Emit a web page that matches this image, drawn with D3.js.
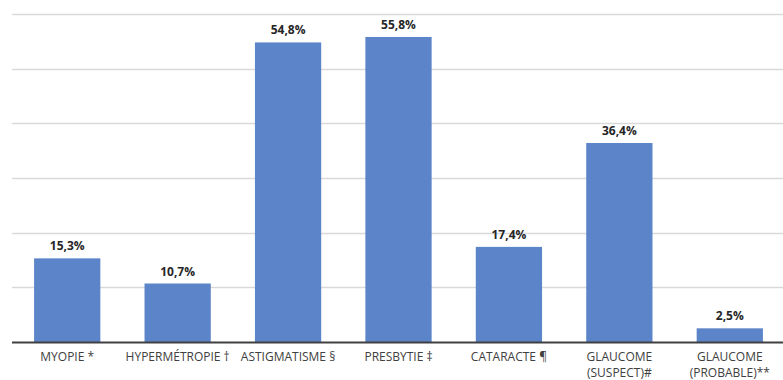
<!DOCTYPE html>
<html>
<head>
<meta charset="utf-8">
<script src="https://cdn.jsdelivr.net/npm/d3@7"></script>
<style>
  body { margin: 0; background: #fff; }
  text { font-family: "Open Sans", sans-serif; }
</style>
</head>
<body>
<div id="chart"></div>
<script>
const categories = ['MYOPIE *', 'HYPERMÉTROPIE †', 'ASTIGMATISME §', 'PRESBYTIE ‡', 'CATARACTE ¶', 'GLAUCOME|(SUSPECT)#', 'GLAUCOME|(PROBABLE)**'];
const values = [15.3, 10.7, 54.8, 55.8, 17.4, 36.4, 2.5];
const valueLabels = ['15,3%', '10,7%', '54,8%', '55,8%', '17,4%', '36,4%', '2,5%'];
const gridTicks = [10, 20, 30, 40, 50, 60];

const width = 783;
const height = 380;

const x = d3.scaleBand()
    .domain(categories)
    .range([12, 785])
    .paddingInner(0.4)
    .paddingOuter(0.2);

const y = d3.scaleLinear()
    .domain([0, 60])
    .range([342, 14]);

const svg = d3.select('#chart')
    .append('svg')
    .attr('width', width)
    .attr('height', height);

// gridlines
svg.selectAll('line.grid')
    .data(gridTicks)
    .enter()
        .append('line')
        .attr('class', 'grid')
        .attr('x1', 12)
        .attr('x2', width)
        .attr('y1', d => Math.round(y(d)) + 0.5)
        .attr('y2', d => Math.round(y(d)) + 0.5)
        .attr('stroke', '#d9d9d9')
        .attr('stroke-width', 1.5);

svg.selectAll('rect')
    .data(values)
    .enter()
        .append('rect')
        .attr('x', (d, i) => x(categories[i]))
        .attr('width', x.bandwidth())
        .attr('y', d => y(d))
        .attr('height', d => y(0) - y(d))
        .attr('fill', '#5b84c9');

svg.selectAll('text.value')
    .data(values)
    .enter()
        .append('text')
        .attr('class', 'value')
        .attr('x', (d, i) => x(categories[i]) + x.bandwidth() / 2)
        .attr('y', d => y(d) - 8)
        .attr('text-anchor', 'middle')
        .attr('font-size', 12)
        .attr('font-weight', 'bold')
        .attr('fill', '#262626')
        .text((d, i) => valueLabels[i]);

// baseline
svg.append('line')
    .attr('x1', 12)
    .attr('x2', width)
    .attr('y1', y(0) + 0.5)
    .attr('y2', y(0) + 0.5)
    .attr('stroke', '#404040')
    .attr('stroke-width', 2);

// category labels, one text per line
const lines = [];
categories.forEach(c => {
    c.split('|').forEach((p, j) => lines.push({ cat: c, text: p, row: j }));
});

svg.selectAll('text.cat')
    .data(lines)
    .enter()
        .append('text')
        .attr('class', 'cat')
        .attr('x', d => x(d.cat) + x.bandwidth() / 2)
        .attr('y', d => 361 + d.row * 16)
        .attr('text-anchor', 'middle')
        .attr('font-size', 12)
        .attr('fill', '#404040')
        .text(d => d.text);
</script>
</body>
</html>
